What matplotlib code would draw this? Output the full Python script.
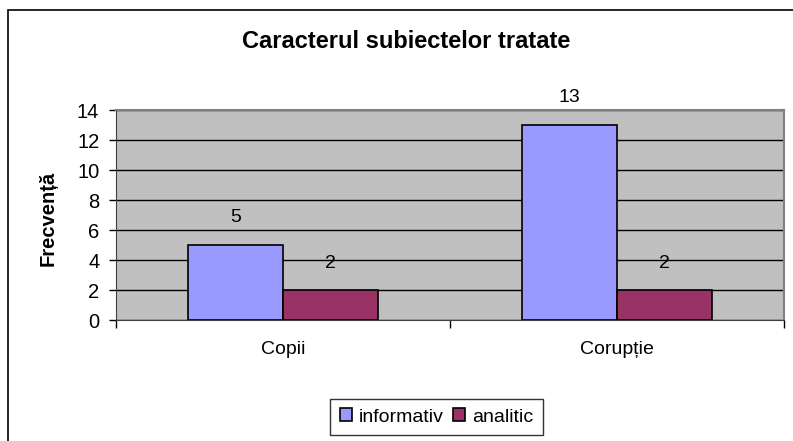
import numpy as np
import matplotlib
matplotlib.use("Agg")
import matplotlib.pyplot as plt
from matplotlib.patches import Rectangle

# data
categories = ["Copii", "Corupție"]
informativ = [5, 13]
analitic = [2, 2]
series_names = ["informativ", "analitic"]

plt.rcParams['font.family'] = ['Liberation Sans', 'DejaVu Sans']

W, H = 793, 441
fig = plt.figure(figsize=(W / 100, H / 100), dpi=100)

# outer chart frame (right/bottom edges fall outside the picture)
fig.patches.append(Rectangle((8 / W, -0.1), 1.2, 1 - 10 / H + 0.1,
                             transform=fig.transFigure, fill=False,
                             edgecolor='black', linewidth=1.2))

ax = fig.add_axes([116 / W, 1 - 320 / H, 668 / W, 210 / H])
ax.set_facecolor('#C0C0C0')

x = np.arange(len(categories))
bw = 0.285
b1 = ax.bar(x - bw / 2, informativ, bw, color='#9999FF', edgecolor='black',
            linewidth=1.2, label=series_names[0], zorder=3)
b2 = ax.bar(x + bw / 2, analitic, bw, color='#993366', edgecolor='black',
            linewidth=1.2, label=series_names[1], zorder=3)

for bars in (b1, b2):
    for r in bars:
        ax.annotate(str(int(r.get_height())),
                    (r.get_x() + r.get_width() / 2, r.get_height()),
                    xytext=(0, 27), textcoords='offset pixels',
                    ha='center', va='center', fontsize=14, zorder=4)

ax.set_xlim(-0.5, 1.5)
ax.set_ylim(0, 14)
ax.set_yticks(np.arange(0, 15, 2))
ax.yaxis.grid(True, color='black', linewidth=1)
ax.set_axisbelow(True)

ax.set_xticks(x)
ax.set_xticklabels(categories)
ax.set_xticks([-0.5, 0.5, 1.5], minor=True)
ax.tick_params(axis='x', which='major', length=0, pad=15, labelsize=14)
ax.tick_params(axis='x', which='minor', length=6, width=1, direction='out')
ax.tick_params(axis='y', length=5, width=1, direction='out', pad=7, labelsize=14.5)

for s in ('top', 'right'):
    ax.spines[s].set_color('#808080')
    ax.spines[s].set_linewidth(1.5)
ax.spines['left'].set_color('#404040')
ax.spines['bottom'].set_color('#404040')

fig.text(48 / W, 1 - 218 / H, "Frecvență", rotation=90, ha='center', va='center',
         fontsize=14.5, fontweight='bold')
fig.text(406 / W, 1 - 42 / H, "Caracterul subiectelor tratate", ha='center',
         va='center', fontsize=17, fontweight='bold')

leg = fig.legend(loc='center', bbox_to_anchor=(436.5 / W, 1 - 417 / H), ncol=2,
                 frameon=True, fancybox=False, edgecolor='black', fontsize=14,
                 handlelength=0.6, handleheight=0.6, handletextpad=0.35,
                 columnspacing=0.5, borderpad=0.5)
leg.get_frame().set_linewidth(1)

fig.savefig("out.png", dpi=100)
